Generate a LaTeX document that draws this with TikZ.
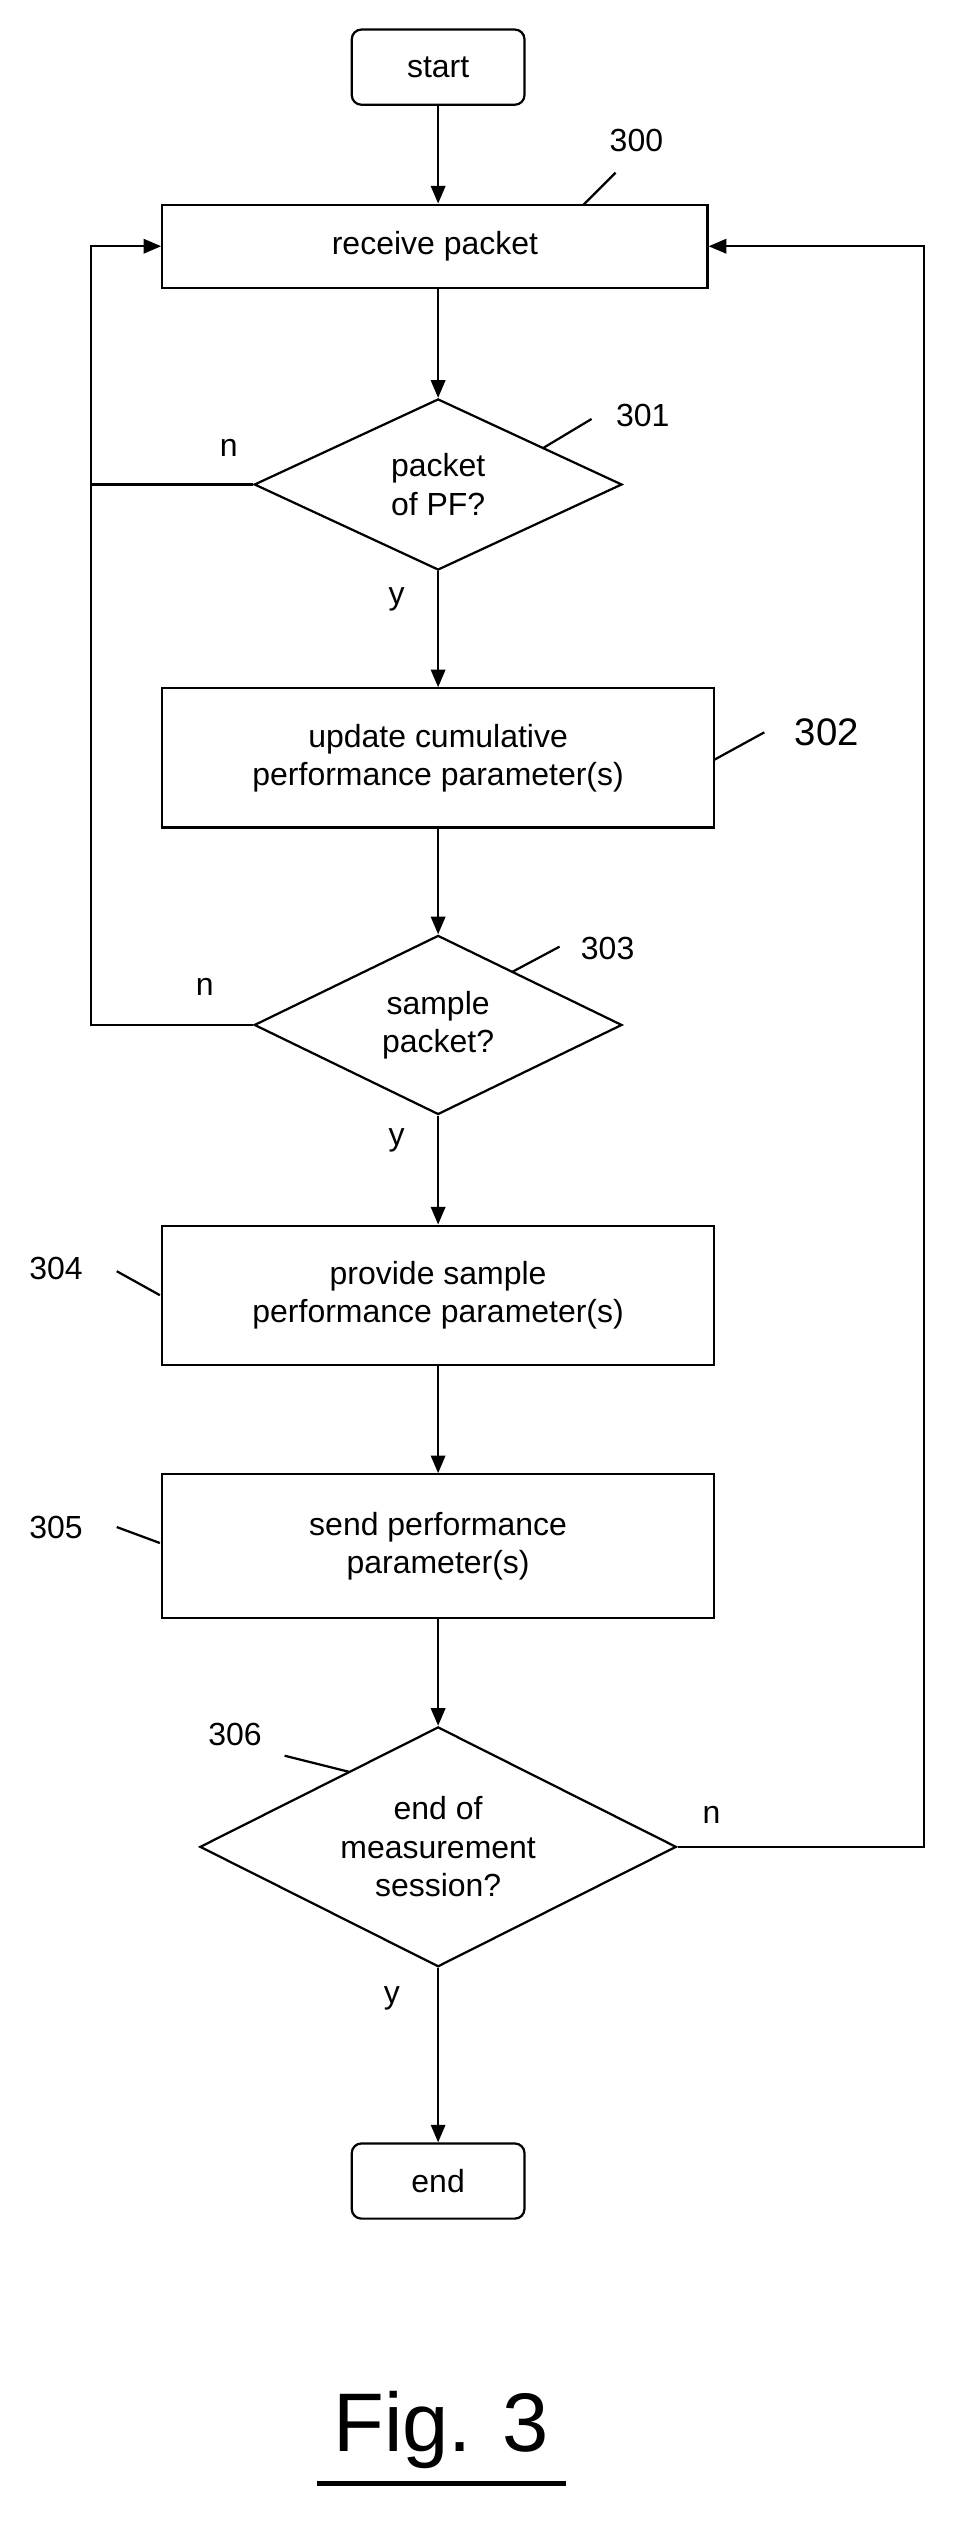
\documentclass[tikz,border=0pt]{standalone}
\usepackage{fontspec}
\setmainfont{Liberation Sans}
\usetikzlibrary{shapes.geometric,arrows.meta}
\begin{document}
\begin{tikzpicture}[x=1pt,y=-1pt,
  every node/.style={font=\fontsize{20}{24}\selectfont},
  box/.style={draw,line width=1.4pt,align=center,inner sep=0pt},
  term/.style={box,rounded corners=6pt,minimum width=108pt,minimum height=47pt},
  proc/.style={box,minimum width=345pt,minimum height=87pt},
  dia/.style={draw,line width=1.4pt,diamond,aspect=2.1,align=center,inner sep=0pt},
  ln/.style={line width=1.4pt},
  arr/.style={ln,-{Triangle[length=11pt,width=9pt]}},
  lbl/.style={font=\fontsize{20}{24}\selectfont}]
\useasboundingbox (0,0) rectangle (600,1586);
\node[term] (start) at (274,42) {start};
\node[box,minimum width=341pt,minimum height=52pt] (p300) at (272,154) {receive packet};
\node[dia,minimum width=230pt,minimum height=107pt] (d301) at (274,303) {packet\\of PF?};
\node[proc] (p302) at (274,474) {update cumulative\\performance parameter(s)};
\node[dia,minimum width=230pt,minimum height=112pt] (d303) at (274,641) {sample\\packet?};
\node[proc] (p304) at (274,810) {provide sample\\performance parameter(s)};
\node[proc,minimum height=90pt] (p305) at (274,967) {send performance\\parameter(s)};
\node[dia,minimum width=298pt,minimum height=150pt] (d306) at (274,1155) {end of\\measurement\\session?};
\node[term] (end) at (274,1364) {end};
\node[font=\fontsize{52}{60}\selectfont] (fig) at (276,1520) {Fig. 3};
\coordinate (u1) at (198,1553);
\coordinate (u2) at (354,1553);
\draw[line width=3pt] (u1) -- (u2);
% labels
\node[lbl] (l300) at (398,88) {300};
\node[lbl] (l301) at (402,260) {301};
\node[lbl,font=\fontsize{24}{28}\selectfont] (l302) at (517,458) {302};
\node[lbl] (l303) at (380,593) {303};
\node[lbl] (l304) at (35,793) {304};
\node[lbl] (l305) at (35,955) {305};
\node[lbl] (l306) at (147,1085) {306};
\draw[ln] (365,128) -- (385,108);
\draw[ln] (340,280) -- (370,262);
\draw[ln] (447,475) -- (478,458);
\draw[ln] (320,608) -- (350,592);
\draw[ln] (73,795) -- (100,810);
\draw[ln] (73,955) -- (100,965);
\draw[ln] (178,1098) -- (218,1108);
% flow
\draw[arr] (start) -- (start|-p300.north);
\draw[arr] (d301|-p300.south) -- (d301);
\draw[arr] (d301) -- (p302);
\draw[arr] (p302) -- (d303);
\draw[arr] (d303) -- (p304);
\draw[arr] (p304) -- (p305);
\draw[arr] (p305) -- (d306);
\draw[arr] (d306) -- (end);
\coordinate (c1) at (57,303);
\coordinate (c2) at (57,641);
\coordinate (c3) at (57,154);
\coordinate (c4) at (578,1155);
\coordinate (c5) at (578,154);
\draw[ln] (d301.west) -- (c1);
\draw[ln] (d303.west) -- (c2) -- (c1);
\draw[arr] (c1) -- (c3) -- (p300.west);
\draw[arr] (d306.east) -- (c4) -- (c5) -- (p300.east);
\node at (143,280) {n};
\node at (248,375) {y};
\node at (128,617) {n};
\node at (248,713) {y};
\node at (445,1135) {n};
\node at (245,1250) {y};
\end{tikzpicture}
\end{document}
